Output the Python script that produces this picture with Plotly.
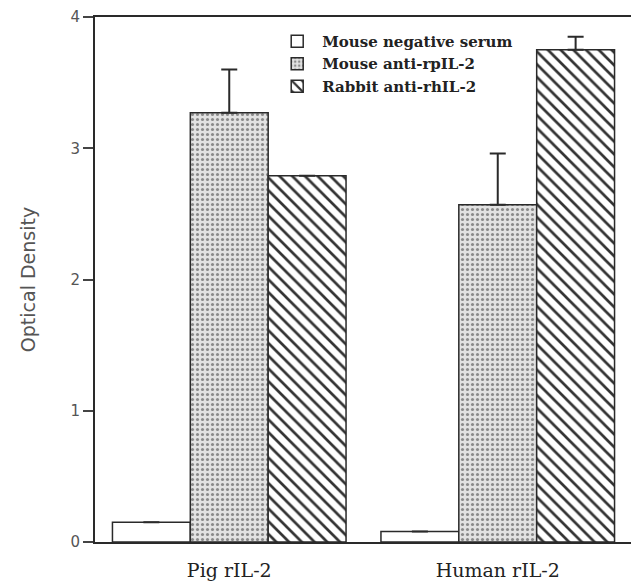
import plotly.graph_objects as go

categories = ["Pig rIL-2", "Human rIL-2"]
series_names = ["Mouse negative serum", "Mouse anti-rpIL-2", "Rabbit anti-rhIL-2"]
neg_serum = [0.15, 0.08]
anti_rp = [3.27, 2.57]
anti_rh = [2.79, 3.75]
err_neg = [0.0, 0.0]
err_rp = [0.33, 0.39]
err_rh = [0.0, 0.10]
y_ticks = [0, 1, 2, 3, 4]

line_col = "#2a2a2a"
fig = go.Figure()

def add(name, vals, errs, pattern):
    fig.add_trace(go.Bar(
        name=name, x=categories, y=vals,
        marker=dict(color="white", line=dict(color=line_col, width=1.5), pattern=pattern),
        error_y=dict(type="data", array=errs, arrayminus=[0]*len(errs), symmetric=False,
                     color=line_col, thickness=2, width=8, visible=True),
    ))

add(series_names[0], neg_serum, err_neg, dict(shape=""))
add(series_names[1], anti_rp, err_rp, dict(shape=".", bgcolor="#e2e2e2", fgcolor="#8a8a8a", size=5, solidity=0.3, fillmode="replace"))
add(series_names[2], anti_rh, err_rh, dict(shape="\\", bgcolor="white", fgcolor="#333333", size=9, solidity=0.3, fillmode="replace"))

fig.update_layout(
    width=631, height=579,
    margin=dict(l=87, r=7, t=9, b=45),
    paper_bgcolor="white", plot_bgcolor="white",
    barmode="group", bargap=0.13, bargroupgap=0,
    showlegend=True,
    legend=dict(x=0.33, y=0.985, xanchor="left", yanchor="top",
                font=dict(family="DejaVu Serif", size=15, color="#222", weight="bold"),
                bgcolor="rgba(0,0,0,0)", tracegroupgap=0, itemwidth=40),
    xaxis=dict(showline=True, linecolor=line_col, linewidth=2, mirror=True,
               ticks="outside", ticklen=10, tickcolor="rgba(0,0,0,0)",
               tickfont=dict(family="DejaVu Serif", size=19, color="#222"),
               range=[-0.5, 1.5], automargin=False),
    yaxis=dict(range=[0, 4], tickvals=y_ticks, showline=True, linecolor=line_col, linewidth=2,
               mirror=True, ticks="outside", ticklen=10, tickwidth=1.5, tickcolor="#444",
               showgrid=False, zeroline=False, automargin=False, ticklabeloverflow="allow",
               tickfont=dict(family="DejaVu Sans", size=15, color="#555"),
               title=dict(text="Optical Density", font=dict(family="DejaVu Sans", size=19, color="#555"),
                          standoff=30)),
)

fig.write_html("out.html")
